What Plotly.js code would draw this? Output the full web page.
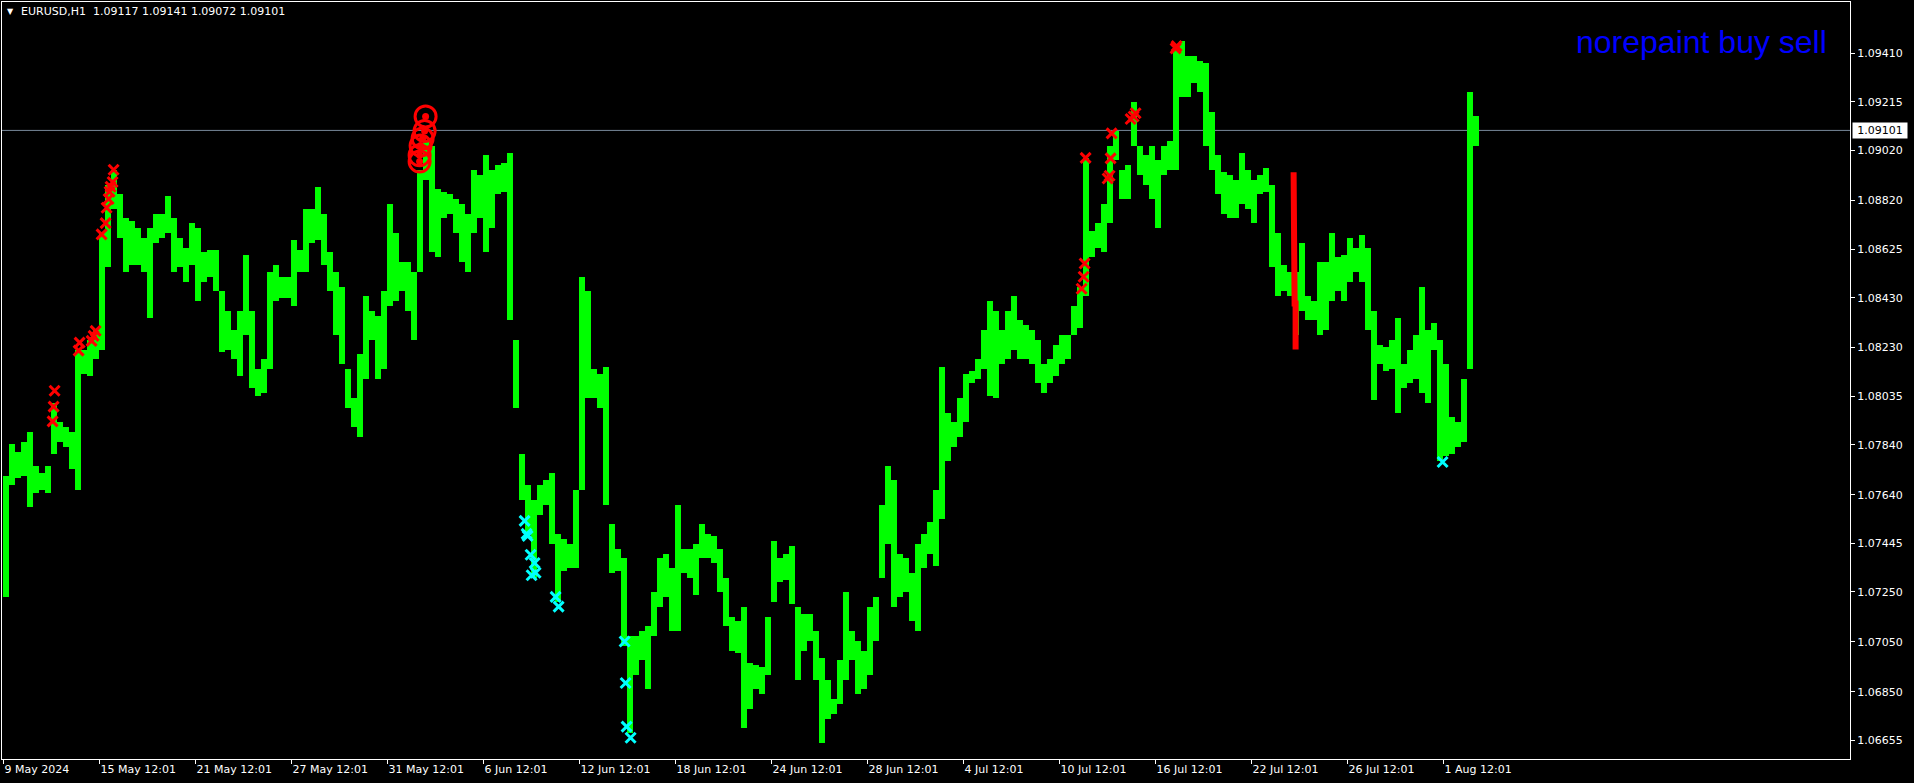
<!DOCTYPE html>
<html><head><meta charset="utf-8">
<script src="https://cdn.plot.ly/plotly-3.0.1.min.js"></script>
<style>html,body{margin:0;padding:0;background:#000;overflow:hidden}#chart{width:1914px;height:783px}</style>
</head><body><div id="chart"></div>
<script>
const symbolName = 'EURUSD,H1';
const lastQuote = ['1.09117', '1.09141', '1.09072', '1.09101'];
const indicatorLabel = 'norepaint buy sell';
const currentPrice = 1.09101;
const barsPerSample = 6;

const highs = [
1.07716,1.07843,1.07813,1.07852,1.07891,1.07755,1.07726,1.07755,1.08008,1.07930,
1.07911,1.07891,1.08222,1.08222,1.08261,1.08300,1.08689,1.08884,1.08943,1.08845,
1.08748,1.08738,1.08709,1.08670,1.08709,1.08767,1.08767,1.08836,1.08748,1.08670,
1.08631,1.08728,1.08709,1.08612,1.08621,1.08621,1.08456,1.08378,1.08300,1.08378,
1.08602,1.08378,1.08144,1.08183,1.08534,1.08563,1.08514,1.08514,1.08660,1.08621,
1.08787,1.08787,1.08874,1.08767,1.08612,1.08534,1.08475,1.08144,1.08028,1.08203,
1.08436,1.08378,1.08358,1.08456,1.08806,1.08689,1.08573,1.08573,1.08534,1.08943,
1.09059,1.09040,1.08865,1.08855,1.08845,1.08826,1.08806,1.08767,1.08943,1.08923,
1.09001,1.08943,1.08962,1.08972,1.09011,1.08261,1.07804,1.07677,1.07619,1.07677,
1.07697,1.07726,1.07482,1.07463,1.07443,1.07658,1.08514,1.08456,1.08144,1.08125,
1.08154,1.07521,1.07424,1.07385,1.07073,1.07073,1.07093,1.07112,1.07249,1.07385,
1.07404,1.07346,1.07599,1.07424,1.07424,1.07443,1.07521,1.07482,1.07473,1.07424,
1.07307,1.07151,1.07132,1.07190,1.06966,1.06957,1.06947,1.07151,1.07453,1.07385,
1.07404,1.07434,1.07190,1.07161,1.07161,1.07093,1.06986,1.06898,1.06820,1.06976,
1.07249,1.07093,1.07054,1.07015,1.07190,1.07229,1.07599,1.07755,1.07697,1.07404,
1.07385,1.07327,1.07443,1.07482,1.07531,1.07658,1.08154,1.07969,1.07930,1.08028,
1.08125,1.08135,1.08183,1.08300,1.08417,1.08378,1.08300,1.08378,1.08436,1.08339,
1.08320,1.08300,1.08261,1.08164,1.08183,1.08242,1.08281,1.08281,1.08397,1.08475,
1.08991,1.08699,1.08728,1.08806,1.09040,1.09098,1.08943,1.08962,1.09215,1.09040,
1.09001,1.09040,1.08982,1.09040,1.09059,1.09439,1.09459,1.09400,1.09400,1.09381,
1.09371,1.09176,1.09001,1.08933,1.08923,1.08904,1.09011,1.08943,1.08904,1.08923,
1.08952,1.08884,1.08689,1.08563,1.08534,1.08534,1.08651,1.08436,1.08417,1.08573,
1.08573,1.08689,1.08592,1.08602,1.08670,1.08631,1.08680,1.08631,1.08378,1.08242,
1.08232,1.08261,1.08349,1.08164,1.08222,1.08281,1.08475,1.08300,1.08329,1.08261,
1.08164,1.07950,1.07930,1.08105,1.09254,1.09157
];
const lows = [
1.07229,1.07677,1.07706,1.07716,1.07589,1.07648,1.07658,1.07648,1.07804,1.07852,
1.07833,1.07745,1.07658,1.08125,1.08115,1.08183,1.08222,1.08553,1.08787,1.08670,
1.08534,1.08563,1.08563,1.08534,1.08349,1.08651,1.08670,1.08689,1.08534,1.08553,
1.08495,1.08563,1.08417,1.08495,1.08514,1.08456,1.08212,1.08222,1.08183,1.08115,
1.08281,1.08066,1.08037,1.08047,1.08144,1.08417,1.08427,1.08427,1.08397,1.08534,
1.08534,1.08651,1.08660,1.08563,1.08456,1.08281,1.08164,1.07989,1.07911,1.07872,
1.08105,1.08261,1.08105,1.08144,1.08397,1.08417,1.08456,1.08378,1.08261,1.08534,
1.08904,1.08612,1.08592,1.08748,1.08767,1.08689,1.08573,1.08534,1.08689,1.08748,
1.08612,1.08709,1.08845,1.08855,1.08339,1.07989,1.07619,1.07482,1.07307,1.07560,
1.07599,1.07443,1.07210,1.07336,1.07346,1.07346,1.07658,1.08028,1.08028,1.07989,
1.07599,1.07327,1.07336,1.07035,1.06684,1.06918,1.06976,1.06859,1.07073,1.07190,
1.07229,1.07093,1.07093,1.07327,1.07307,1.07239,1.07385,1.07385,1.07365,1.07249,
1.07112,1.07015,1.07005,1.06704,1.06781,1.06859,1.06840,1.06918,1.07210,1.07288,
1.07297,1.07200,1.06898,1.07015,1.07054,1.06898,1.06645,1.06742,1.06762,1.06801,
1.06898,1.06976,1.06840,1.06859,1.06918,1.07054,1.07307,1.07443,1.07190,1.07229,
1.07249,1.07132,1.07093,1.07346,1.07404,1.07356,1.07541,1.07774,1.07833,1.07872,
1.07930,1.08086,1.08105,1.08144,1.08037,1.08028,1.08164,1.08183,1.08222,1.08183,
1.08183,1.08164,1.08086,1.08047,1.08086,1.08115,1.08164,1.08183,1.08281,1.08310,
1.08436,1.08592,1.08631,1.08612,1.08728,1.08982,1.08826,1.08826,1.09040,1.08923,
1.08884,1.08826,1.08709,1.08923,1.08943,1.08943,1.09235,1.09235,1.09293,1.09254,
1.09040,1.08943,1.08845,1.08767,1.08748,1.08748,1.08806,1.08787,1.08728,1.08845,
1.08855,1.08553,1.08436,1.08456,1.08436,1.08281,1.08378,1.08339,1.08339,1.08281,
1.08300,1.08417,1.08456,1.08417,1.08495,1.08534,1.08495,1.08300,1.08018,1.08164,
1.08135,1.08144,1.07969,1.08066,1.08086,1.08105,1.08047,1.08008,1.08222,1.07774,
1.07794,1.07804,1.07833,1.07852,1.08144,1.09040
];

const tickBars = [0,96,192,288,384,480,576,672,768,864,960,1056,1152,1248,1344,1440];
const tickLabels = ['9 May 2024','15 May 12:01','21 May 12:01','27 May 12:01','31 May 12:01','6 Jun 12:01','12 Jun 12:01','18 Jun 12:01','24 Jun 12:01','28 Jun 12:01','4 Jul 12:01','10 Jul 12:01','16 Jul 12:01','22 Jul 12:01','26 Jul 12:01','1 Aug 12:01'];
const priceTicks = [1.09410,1.09215,1.09020,1.08820,1.08625,1.08430,1.08230,1.08035,1.07840,1.07640,1.07445,1.07250,1.07050,1.06850,1.06655];

const sellBars = [49,50,51,75,76,88,90,92,98,102,103,105,106,107,109,110,1078,1080,1081,1082,1104,1106,1107,1108,1127,1130,1132,1172,1173];
const sellPrices = [1.07934,1.07993,1.08057,1.08218,1.08250,1.08257,1.08277,1.08297,1.08684,1.08729,1.08791,1.08826,1.08855,1.08875,1.08894,1.08943,1.08466,1.08514,1.08567,1.08991,1.08908,1.08919,1.08989,1.09089,1.09147,1.09157,1.09170,1.09430,1.09439];
const buyBars = [521,523,524,527,528,531,532,552,555,621,622,623,627,1439];
const buyPrices = [1.07535,1.07483,1.07475,1.07399,1.07317,1.07366,1.07327,1.07230,1.07191,1.07051,1.06885,1.06710,1.06665,1.07771];
const circleBars = [416,416,417,419,421,422];
const circlePrices = [1.08976,1.09001,1.09040,1.09069,1.09099,1.09157];
const signalLineBars = [1290,1290,1291,1291,1292,1292];
const signalLinePrices = [1.08933,1.08748,1.08748,1.08407,1.08407,1.08222];

const sampleX = highs.map((_, i) => i * barsPerSample + (barsPerSample - 1) / 2);
const font = 'DejaVu Sans';

const traces = [
  {type:'bar', x: sampleX, base: lows, y: highs.map((h, i) => h - lows[i]), width: barsPerSample,
   marker:{color:'#00FF00', line:{width:0}}, hoverinfo:'skip'},
  {type:'scatter', mode:'lines', x: signalLineBars, y: signalLinePrices,
   line:{color:'#FF0000', width:6}, hoverinfo:'skip'},
  {type:'scatter', mode:'markers', x: circleBars, y: circlePrices,
   marker:{symbol:'circle-open', size:21, color:'#FF0000', line:{color:'#FF0000', width:3}}, hoverinfo:'skip'},
  {type:'scatter', mode:'markers', x: circleBars, y: circlePrices,
   marker:{symbol:'circle', size:7, color:'#FF0000'}, hoverinfo:'skip'},
  {type:'scatter', mode:'markers', x: sellBars, y: sellPrices,
   marker:{symbol:'x-thin-open', size:10, color:'#FF0000', line:{color:'#FF0000', width:3}}, hoverinfo:'skip'},
  {type:'scatter', mode:'markers', x: buyBars, y: buyPrices,
   marker:{symbol:'x-thin-open', size:10, color:'#00FFFF', line:{color:'#00FFFF', width:3}}, hoverinfo:'skip'}
];

const layout = {
  width:1914, height:783,
  paper_bgcolor:'#000000', plot_bgcolor:'#000000',
  margin:{l:2, r:64, t:2, b:24, pad:0},
  showlegend:false, bargap:0,
  xaxis:{range:[-1.6, 1846.4], showgrid:false, zeroline:false, showline:true, mirror:true,
    linecolor:'#FFFFFF', linewidth:1, ticks:'outside', ticklen:4, tickcolor:'#FFFFFF', tickwidth:1,
    tickmode:'array', tickvals: tickBars, ticktext: tickLabels, ticklabelposition:'outside right',
    tickfont:{family:font, size:11, color:'#FFFFFF'}, fixedrange:true},
  yaxis:{range:[1.06580, 1.09616], side:'right', showgrid:false, zeroline:false, showline:true, mirror:true,
    linecolor:'#FFFFFF', linewidth:1, ticks:'outside', ticklen:4, tickcolor:'#FFFFFF', tickwidth:1,
    tickmode:'array', tickvals: priceTicks, ticktext: priceTicks.map(v => v.toFixed(5)),
    tickfont:{family:font, size:11, color:'#FFFFFF'}, fixedrange:true},
  shapes:[
    {type:'line', xref:'paper', x0:0, x1:1, yref:'y', y0:currentPrice, y1:currentPrice,
     line:{color:'#778899', width:1}, layer:'below'}
  ],
  annotations:[
    {xref:'paper', yref:'paper', x:0.00487, y:0.98679, xanchor:'center', yanchor:'middle', showarrow:false,
     text:'\u25BC', font:{family:font, size:8, color:'#FFFFFF'}},
    {xref:'paper', yref:'paper', x:0.00920, y:0.98679, xanchor:'left', yanchor:'middle', showarrow:false,
     text: symbolName + '\u00a0\u00a0' + lastQuote.join(' '), font:{family:font, size:11, color:'#FFFFFF'}},
    {xref:'paper', yref:'paper', x:0.98864, y:0.94716, xanchor:'right', yanchor:'middle', showarrow:false,
     text: indicatorLabel, font:{family:'Liberation Sans, Arial, sans-serif', size:32, color:'#0000FF'}},
    {xref:'paper', yref:'y', x:1.00108, y:currentPrice, xanchor:'left', yanchor:'middle', showarrow:false,
     text: currentPrice.toFixed(5), bgcolor:'#FFFFFF', borderpad:1, width:52,
     font:{family:font, size:11, color:'#000000'}}
  ]
};

Plotly.newPlot('chart', traces, layout, {staticPlot:true, displayModeBar:false});
</script>
</body></html>
